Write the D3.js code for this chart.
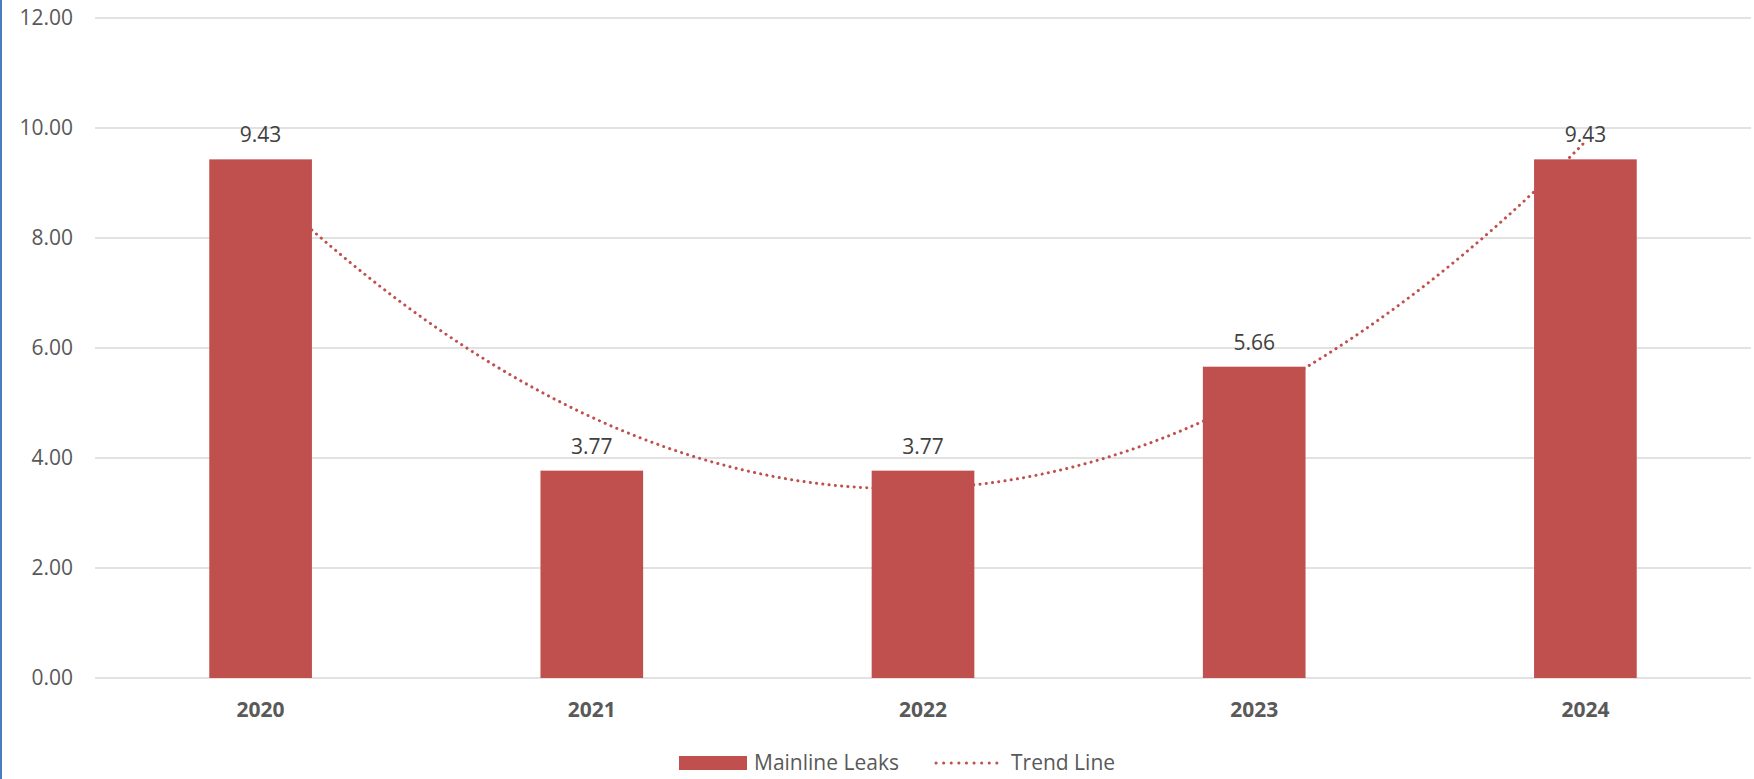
<!DOCTYPE html>
<html>
<head>
<meta charset="utf-8">
<script src="https://cdn.jsdelivr.net/npm/d3@7"></script>
<style>
  html, body { margin: 0; padding: 0; background: #fff; }
  svg { display: block; }
  text { font-family: "Open Sans", "Noto Sans", sans-serif; }
</style>
</head>
<body>
<svg id="chart" width="1754" height="779"></svg>
<script>
// ---- data ----
const categories = ["2020", "2021", "2022", "2023", "2024"];
const leaks = [9.43, 3.77, 3.77, 5.66, 9.43];
const yTicks = [0, 2, 4, 6, 8, 10, 12];
const seriesName = "Mainline Leaks";
const trendName = "Trend Line";

// ---- layout ----
const W = 1754, H = 779;
const margin = { left: 95, right: 3, top: 18, bottom: 101 };
const red = "#C0504D";

const svg = d3.select("#chart");

// left blue border
svg.append("line")
  .attr("x1", 1).attr("x2", 1).attr("y1", 0).attr("y2", H)
  .attr("stroke", "#4A7EBB").attr("stroke-width", 2);

const x = d3.scaleBand()
  .domain(categories)
  .range([margin.left, W - margin.right])
  .paddingInner(0.69)
  .paddingOuter(0.345);

const y = d3.scaleLinear()
  .domain([0, 12])
  .range([H - margin.bottom, margin.top]);

// gridlines
const grid = svg.append("g");
grid.selectAll("line").data(yTicks).join("line")
  .attr("x1", margin.left).attr("x2", W - margin.right)
  .attr("y1", d => y(d)).attr("y2", d => y(d))
  .attr("stroke", "#D9D9D9").attr("stroke-width", 1.5);

// y axis labels
const yAxis = svg.append("g")
  .attr("transform", `translate(${margin.left - 22},0)`)
  .call(d3.axisLeft(y).tickValues(yTicks).tickFormat(d3.format(".2f")).tickSize(0).tickPadding(0));
yAxis.select(".domain").remove();
yAxis.selectAll("text")
  .attr("font-size", 21).attr("fill", "#595959")
  .style("font-family", '"Open Sans", "Noto Sans", sans-serif');

// trend line: quadratic least-squares fit of the bar values (as in the chart's polynomial trendline)
const xs = leaks.map((d, i) => i + 1);
function polyFit2(X, Y) {
  const n = X.length;
  let s = [0,0,0,0,0], t = [0,0,0];
  for (let i = 0; i < n; i++) {
    for (let k = 0; k <= 4; k++) s[k] += Math.pow(X[i], k);
    for (let k = 0; k <= 2; k++) t[k] += Y[i] * Math.pow(X[i], k);
  }
  const A = [[s[0], s[1], s[2], t[0]], [s[1], s[2], s[3], t[1]], [s[2], s[3], s[4], t[2]]];
  for (let c = 0; c < 3; c++) {
    for (let r = c + 1; r < 3; r++) {
      const f = A[r][c] / A[c][c];
      for (let k = c; k < 4; k++) A[r][k] -= f * A[c][k];
    }
  }
  const coef = [0,0,0];
  for (let r = 2; r >= 0; r--) {
    let v = A[r][3];
    for (let k = r + 1; k < 3; k++) v -= A[r][k] * coef[k];
    coef[r] = v / A[r][r];
  }
  return coef;
}
const coef = polyFit2(xs, leaks);
const xPos = d3.scaleLinear().domain([1, categories.length])
  .range([x(categories[0]) + x.bandwidth() / 2, x(categories[categories.length - 1]) + x.bandwidth() / 2]);
const trendPts = d3.range(1, categories.length + 0.0001, 0.02).map(t => [t, coef[0] + coef[1] * t + coef[2] * t * t]);

svg.append("path")
  .datum(trendPts)
  .attr("fill", "none")
  .attr("stroke", red)
  .attr("stroke-width", 3)
  .attr("stroke-linecap", "round")
  .attr("stroke-dasharray", "0.1 6.2")
  .attr("d", d3.line().x(d => xPos(d[0])).y(d => y(d[1])).curve(d3.curveLinear));

// bars (drawn over trend line)
svg.append("g").selectAll("rect").data(leaks).join("rect")
  .attr("x", (d, i) => x(categories[i]))
  .attr("y", d => y(d))
  .attr("width", x.bandwidth())
  .attr("height", d => y(0) - y(d))
  .attr("fill", red);

// data labels
svg.append("g").selectAll("text").data(leaks).join("text")
  .attr("x", (d, i) => x(categories[i]) + x.bandwidth() / 2)
  .attr("y", d => y(d) - 17)
  .attr("text-anchor", "middle")
  .attr("font-size", 21)
  .attr("fill", "#404040")
  .text(d => d.toFixed(2));

// x axis labels
const xAxis = svg.append("g")
  .attr("transform", `translate(0,${y(0)})`)
  .call(d3.axisBottom(x).tickSize(0).tickPadding(0));
xAxis.select(".domain").remove();
xAxis.selectAll("text")
  .attr("dy", null)
  .attr("y", 39)
  .attr("font-size", 21)
  .attr("font-weight", "bold")
  .attr("fill", "#595959")
  .style("font-family", '"Open Sans", "Noto Sans", sans-serif');

// legend
const lg = svg.append("g");
lg.append("rect").attr("x", 679).attr("y", 756).attr("width", 68).attr("height", 14).attr("fill", red);
lg.append("text").attr("x", 754).attr("y", 770).attr("font-size", 21).attr("fill", "#595959").text(seriesName);
lg.append("line").attr("x1", 936).attr("x2", 1004).attr("y1", 763).attr("y2", 763)
  .attr("stroke", red).attr("stroke-width", 3).attr("stroke-linecap", "round").attr("stroke-dasharray", "0.1 7.5");
lg.append("text").attr("x", 1011).attr("y", 770).attr("font-size", 21).attr("fill", "#595959").text(trendName);
</script>
</body>
</html>
